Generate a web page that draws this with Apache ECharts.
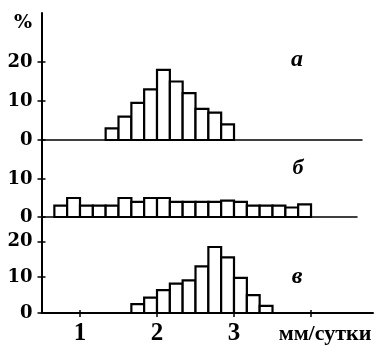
<!DOCTYPE html>
<html>
<head>
<meta charset="utf-8">
<script src="https://cdn.jsdelivr.net/npm/echarts@6/dist/echarts.min.js"></script>
<style>html,body{margin:0;padding:0;background:#fff;}#c{width:377px;height:346px;}</style>
</head>
<body>
<div id="c"></div>
<script>
// Histogram bins: left edge, right edge (mm/day), value (%)
const binLeftA  = [1.333, 1.5, 1.667, 1.833, 2, 2.167, 2.333, 2.5, 2.667, 2.833];
const binRightA = [1.5, 1.667, 1.833, 2, 2.167, 2.333, 2.5, 2.667, 2.833, 3];
const valuesA   = [3, 6, 9.5, 13, 18, 15, 12, 8, 7, 4];

const binLeftB  = [0.667, 0.833, 1, 1.167, 1.333, 1.5, 1.667, 1.833, 2, 2.167, 2.333, 2.5, 2.667, 2.833, 3, 3.167, 3.333, 3.5, 3.667, 3.833];
const binRightB = [0.833, 1, 1.167, 1.333, 1.5, 1.667, 1.833, 2, 2.167, 2.333, 2.5, 2.667, 2.833, 3, 3.167, 3.333, 3.5, 3.667, 3.833, 4];
const valuesB   = [3, 5, 3, 3, 3, 5, 4, 5, 5, 4, 4, 4, 4, 4.3, 4, 3, 3, 3, 2.5, 3.3];

const binLeftC  = [1.667, 1.833, 2, 2.167, 2.333, 2.5, 2.667, 2.833, 3, 3.167, 3.333];
const binRightC = [1.833, 2, 2.167, 2.333, 2.5, 2.667, 2.833, 3, 3.167, 3.333, 3.5];
const valuesC   = [2.5, 4.3, 6.4, 8.2, 9.1, 13, 18.4, 15.5, 9.8, 5, 2];

const yTicksA = [0, 10, 20];
const yTicksB = [0, 10];
const yTicksC = [0, 10, 20];
const xTicks  = [1, 2, 3, 4];
const xLabels = [1, 2, 3];
const panelLabels = ['а', 'б', 'в'];
const unitLabel = 'мм/сутки';
const percentLabel = '%';

function toData(l, r, v) { return l.map((x, i) => [x, r[i], v[i]]); }

const renderBar = function (params, api) {
  const p0 = api.coord([api.value(0), api.value(2)]);
  const p1 = api.coord([api.value(1), 0]);
  return {
    type: 'rect',
    shape: { x: p0[0], y: p0[1], width: p1[0] - p0[0], height: p1[1] - p0[1] },
    style: { fill: '#fff', stroke: '#000', lineWidth: 2.2 }
  };
};

const yLabelStyle = { fontFamily: 'DejaVu Serif', fontWeight: 'bold', fontSize: 18, color: '#000', margin: 9 };

function yAxes(gridIndex, max, ticks) {
  return [
    { type: 'value', gridIndex, min: 0, max,
      axisLine: { show: true, lineStyle: { color: '#000', width: 2 } },
      axisTick: { show: true, length: 4, customValues: ticks, lineStyle: { color: '#000', width: 1.5 } },
      axisLabel: Object.assign({ customValues: ticks }, yLabelStyle),
      splitLine: { show: false } },
    { type: 'value', gridIndex, min: 0, max, position: 'left',
      axisLine: { show: false },
      axisTick: { show: true, inside: true, length: 4, customValues: ticks, lineStyle: { color: '#000', width: 1.5 } },
      axisLabel: { show: false },
      splitLine: { show: false } }
  ];
}

const chart = echarts.init(document.getElementById('c'), null, { renderer: 'canvas' });
chart.setOption({
  animation: false,
  backgroundColor: '#fff',
  grid: [
    { left: 41.5, top: 13,  width: 320.5, height: 127 },
    { left: 41.5, top: 140, width: 315.5, height: 77 },
    { left: 41.5, top: 217, width: 331.5, height: 99 }
  ],
  xAxis: [
    { type: 'value', gridIndex: 0, min: 0.5, max: 4.662,
      axisLine: { show: true, onZero: false, lineStyle: { color: '#000', width: 1.5 } },
      axisTick: { show: false }, axisLabel: { show: false }, splitLine: { show: false } },
    { type: 'value', gridIndex: 1, min: 0.5, max: 4.597,
      axisLine: { show: true, onZero: false, lineStyle: { color: '#000', width: 1.5 } },
      axisTick: { show: false }, axisLabel: { show: false }, splitLine: { show: false } },
    { type: 'value', gridIndex: 2, min: 0.5, max: 4.805,
      axisLine: { show: true, onZero: false, lineStyle: { color: '#000', width: 2 } },
      axisTick: { show: true, length: 4, customValues: xTicks, lineStyle: { color: '#000', width: 1.5 } },
      axisLabel: { customValues: xLabels, fontFamily: 'Liberation Serif', fontWeight: 'bold', fontSize: 25, color: '#000', margin: 8 },
      splitLine: { show: false } },
    { type: 'value', gridIndex: 2, min: 0.5, max: 4.805, position: 'bottom',
      axisLine: { show: false },
      axisTick: { show: true, inside: true, length: 3, customValues: xTicks, lineStyle: { color: '#000', width: 1.5 } },
      axisLabel: { show: false }, splitLine: { show: false } }
  ],
  yAxis: [].concat(yAxes(0, 32.56, yTicksA), yAxes(1, 20.26, yTicksB), yAxes(2, 26.76, yTicksC)),
  series: [
    { type: 'custom', xAxisIndex: 0, yAxisIndex: 0, renderItem: renderBar, data: toData(binLeftA, binRightA, valuesA), clip: false },
    { type: 'custom', xAxisIndex: 1, yAxisIndex: 2, renderItem: renderBar, data: toData(binLeftB, binRightB, valuesB), clip: false },
    { type: 'custom', xAxisIndex: 2, yAxisIndex: 4, renderItem: renderBar, data: toData(binLeftC, binRightC, valuesC), clip: false }
  ],
  graphic: [
    { type: 'text', x: 23, y: 23, style: { text: percentLabel, font: 'bold 19px "DejaVu Serif"', fill: '#000', align: 'center', verticalAlign: 'middle' } },
    { type: 'text', x: 297, y: 60, style: { text: panelLabels[0], font: 'italic bold 24px "Liberation Serif"', fill: '#000', align: 'center', verticalAlign: 'middle' } },
    { type: 'text', x: 298, y: 168, style: { text: panelLabels[1], font: 'italic bold 22px "Liberation Serif"', fill: '#000', align: 'center', verticalAlign: 'middle' } },
    { type: 'text', x: 297, y: 277, style: { text: panelLabels[2], font: 'italic bold 24px "Liberation Serif"', fill: '#000', align: 'center', verticalAlign: 'middle' } },
    { type: 'text', x: 325, y: 334, style: { text: unitLabel, font: 'bold 22px "Liberation Serif"', fill: '#000', align: 'center', verticalAlign: 'middle' } }
  ]
});
</script>
</body>
</html>
